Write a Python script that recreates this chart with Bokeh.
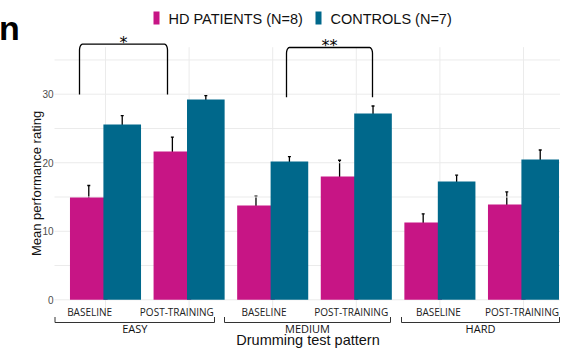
import numpy as np
from bokeh.plotting import figure
from bokeh.models import Range1d, Whisker, TeeHead, ColumnDataSource
from bokeh.core.properties import value
from bokeh.embed import file_html
from bokeh.resources import INLINE

# ---------------- data ----------------
conditions = ["BASELINE", "POST-TRAINING", "BASELINE", "POST-TRAINING", "BASELINE", "POST-TRAINING"]
levels = ["EASY", "MEDIUM", "HARD"]
series_names = ["HD PATIENTS (N=8)", "CONTROLS (N=7)"]
hd_mean = [14.93, 21.64, 13.76, 17.99, 11.28, 13.91]
hd_err = [1.75, 2.10, 1.36, 2.37, 1.27, 1.83]
ctrl_mean = [25.58, 29.23, 20.18, 27.18, 17.26, 20.47]
ctrl_err = [1.29, 0.56, 0.71, 1.10, 0.93, 1.39]
y_ticks = [0, 10, 20, 30]
y_title = "Mean performance rating"
x_title = "Drumming test pattern"
sig_labels = ["*", "**"]

# ---------------- styles ----------------
colors = ["#C71585", "#00688B"]
GRID = "#EBEBEB"
TXT = "#111111"

# pixel -> data helpers (layout only; picture pixels from top-left)
def ux(px):
    return (px - 105.0) / 83.6

def vy(py):
    return (299.3 - py) / 6.853

W, H = 560, 348
p = figure(width=W, height=H, output_backend="svg", toolbar_location=None,
           x_range=Range1d(ux(0), ux(W)), y_range=Range1d(vy(H), vy(0)),
           x_axis_location=None, y_axis_location=None,
           min_border=0, background_fill_color="white", border_fill_color="white")
p.outline_line_color = None
p.grid.visible = False

idx = np.arange(len(conditions))

# gridlines
hy = np.arange(0, 40, 5)
p.segment(x0=[ux(54)] * len(hy), x1=[ux(W + 5)] * len(hy), y0=hy, y1=hy, line_color=GRID, line_width=1)
p.segment(x0=idx, x1=idx, y0=[vy(316.5)] * len(idx), y1=[vy(46.7)] * len(idx), line_color=GRID, line_width=1)

# y tick labels and title
p.text(x=[ux(53)] * len(y_ticks), y=y_ticks, text=[str(t) for t in y_ticks], text_align="right",
       text_baseline="middle", text_font=value("Liberation Sans"), text_font_size="10px", text_color="#4D4D4D")
p.text(x=[ux(35.5)], y=[vy(183)], text=[y_title], angle=np.pi / 2, text_align="center",
       text_baseline="middle", text_font=value("Liberation Sans"), text_font_size="13px", text_color=TXT)

# bars
dodge = 0.2
bw = 0.45
p.vbar(x=idx - dodge, top=hd_mean, bottom=0, width=bw, fill_color=colors[0], line_color=None)
p.vbar(x=idx + dodge, top=ctrl_mean, bottom=0, width=bw, fill_color=colors[1], line_color=None)

# error bars
for off, m, e in [(-dodge, hd_mean, hd_err), (dodge, ctrl_mean, ctrl_err)]:
    m = np.array(m); e = np.array(e)
    src = ColumnDataSource(dict(x=idx + off, lo=m - e, hi=m + e))
    w = Whisker(source=src, base="x", lower="lo", upper="hi", dimension="height",
                line_color="black", line_width=1.3,
                upper_head=TeeHead(size=3, line_color="black", line_width=1.3),
                lower_head=TeeHead(size=3, line_color="black", line_width=1.3))
    p.add_layout(w)

# significance brackets
def sig_path(x0, x1, yb, yt, rx, ry, n=8):
    xs, ys = [x0], [yb]
    for t in np.linspace(0, np.pi / 2, n):
        xs.append(x0 + rx * (1 - np.cos(t))); ys.append(yt - ry + ry * np.sin(t))
    for t in np.linspace(np.pi / 2, 0, n):
        xs.append(x1 - rx * (1 - np.cos(t))); ys.append(yt - ry + ry * np.sin(t))
    xs.append(x1); ys.append(yb)
    return xs, ys

brackets = [(ux(79), ux(167), vy(94), vy(43.7)), (ux(286), ux(372), vy(96.7), vy(47))]
star_base = [vy(42.3), vy(45.0)]
for (x0, x1, yb, yt), lab, sb in zip(brackets, sig_labels, star_base):
    xs, ys = sig_path(x0, x1, yb, yt, 3 / 83.6, 6 / 6.853)
    p.line(xs, ys, line_color="black", line_width=1.3)
    p.text(x=[(x0 + x1) / 2], y=[sb], text=[lab], text_align="center", text_baseline="middle",
           text_font=value("DejaVu Sans"), text_font_size="16px", text_color="black")

# condition labels (x tick labels)
lab_x = list(idx * 1.043 - 0.19)
lab_x[-1] = ux(521.5)
p.text(x=lab_x, y=[vy(311)] * len(idx), text=conditions, text_align="center",
       text_baseline="middle", text_font=value("Open Sans"), text_font_size="10px", text_color="#222222")

# group brackets
gb = [(ux(54.5), ux(214)), (ux(224), ux(390)), (ux(401), ux(559))]
for (x0, x1) in gb:
    p.line([x0, x0, x1, x1], [vy(316.5), vy(322), vy(322), vy(316.5)], line_color="#333333", line_width=1)
p.text(x=[(a + b) / 2 for a, b in gb], y=[vy(328)] * 3, text=levels, text_align="center",
       text_baseline="middle", text_font=value("Open Sans"), text_font_size="11px", text_color="#111111")

# x-axis title
p.text(x=[ux(307.5)], y=[vy(339.5)], text=[x_title], text_align="center",
       text_baseline="middle", text_font=value("Liberation Sans"), text_font_size="14.5px", text_color=TXT)

# legend
p.rect(x=[ux(156), ux(318)], y=[vy(17.5)] * 2, width=6, height=13, width_units="screen",
       height_units="screen", fill_color=colors, line_color=None)
p.text(x=[ux(168), ux(330)], y=[vy(18)] * 2, text=series_names, text_align="left",
       text_baseline="middle", text_font=value("Liberation Sans"), text_font_size="14.5px", text_color=TXT)

# cropped panel letter at the top left
p.text(x=[ux(-1.5)], y=[vy(27)], text=["n"], text_align="left", text_baseline="middle",
       text_font=value("Liberation Sans"), text_font_style="bold", text_font_size="34px", text_color="black")

open("out.html", "w").write(file_html(p, INLINE))
